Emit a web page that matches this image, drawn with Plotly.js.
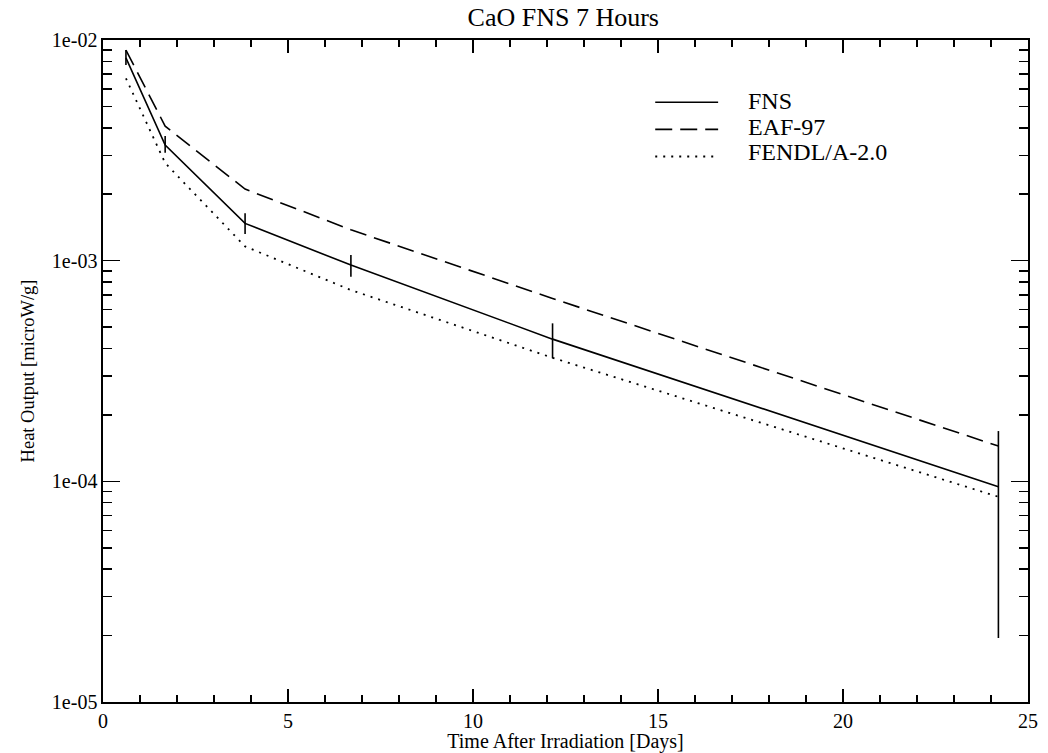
<!DOCTYPE html>
<html>
<head>
<meta charset="utf-8">
<script src="https://cdn.plot.ly/plotly-3.0.1.min.js"></script>
<style>html,body{margin:0;padding:0;background:#fff;}#chart{width:1048px;height:753px;}</style>
</head>
<body>
<div id="chart"></div>
<script>
// Time points (days)
const timeDays = [0.62, 1.68, 3.84, 6.70, 12.15, 24.2];
// FNS measurement and its uncertainty (upper / lower bounds)
const fnsValues = [8.3e-3, 3.34e-3, 1.475e-3, 9.55e-4, 4.41e-4, 9.46e-5];
const fnsUpper  = [9.0e-3, 3.67e-3, 1.64e-3, 1.06e-3, 5.20e-4, 1.69e-4];
const fnsLower  = [7.7e-3, 3.08e-3, 1.32e-3, 8.45e-4, 3.61e-4, 1.95e-5];
// Calculations
const eafValues   = [9.0e-3, 4.07e-3, 2.11e-3, 1.38e-3, 6.74e-4, 1.445e-4];
const fendlValues = [6.7e-3, 2.77e-3, 1.16e-3, 7.36e-4, 3.63e-4, 8.51e-5];
// Series names
const seriesNames = ['FNS', 'EAF-97', 'FENDL/A-2.0'];
// Axis ticks
const yTickVals = [1e-5, 1e-4, 1e-3, 1e-2];
const yTickText = ['1e-05', '1e-04', '1e-03', '1e-02'];
const xTickVals = [0, 5, 10, 15, 20, 25];

const errPlus  = fnsValues.map((v, i) => fnsUpper[i] - v);
const errMinus = fnsValues.map((v, i) => v - fnsLower[i]);

const FONT = 'Liberation Serif, Times New Roman, serif';
const lineStyles = [
  {color: '#000', width: 1.6},
  {color: '#000', width: 1.6, dash: '17px,8px'},
  {color: '#000', width: 1.8, dash: '2px,6px'}
];

const traces = [
  {
    x: timeDays, y: fnsValues, name: seriesNames[0], type: 'scatter', mode: 'lines',
    line: lineStyles[0],
    error_y: {type: 'data', symmetric: false, array: errPlus, arrayminus: errMinus,
              color: '#000', thickness: 1.6, width: 0}
  },
  {x: timeDays, y: eafValues, name: seriesNames[1], type: 'scatter', mode: 'lines', line: lineStyles[1]},
  {x: timeDays, y: fendlValues, name: seriesNames[2], type: 'scatter', mode: 'lines', line: lineStyles[2]}
];

// Legend drawn in paper coordinates (sample line + label per series)
const legX0 = 0.597, legX1 = 0.665, legTextX = 0.695;
const legLineY = [0.906, 0.865, 0.824];
const legTextY = [0.908, 0.869, 0.831];
const shapes = seriesNames.map((n, i) => ({
  type: 'line', xref: 'paper', yref: 'paper', x0: legX0, x1: legX1, y0: legLineY[i], y1: legLineY[i],
  line: lineStyles[i]
}));
const annotations = seriesNames.map((n, i) => ({
  text: n, xref: 'paper', yref: 'paper', x: legTextX, y: legTextY[i], xanchor: 'left', yanchor: 'middle',
  showarrow: false, font: {family: FONT, size: 24, color: '#000'}
}));

const layout = {
  width: 1048, height: 753,
  margin: {l: 103, r: 20, t: 40, b: 51, pad: 0},
  paper_bgcolor: '#fff', plot_bgcolor: '#fff',
  font: {family: FONT, color: '#000', size: 20},
  title: {text: 'CaO FNS 7 Hours', font: {family: FONT, size: 26, color: '#000'},
          x: 0.5375, xanchor: 'center', y: 0.977, yanchor: 'middle'},
  showlegend: false,
  shapes: shapes,
  annotations: annotations,
  xaxis: {
    range: [0, 25], tickmode: 'array', tickvals: xTickVals,
    ticks: 'inside', ticklen: 13, tickwidth: 1.5, tickcolor: '#000',
    showline: true, linecolor: '#000', linewidth: 1.6, mirror: 'ticks',
    showgrid: false, zeroline: false,
    minor: {dtick: 1, ticks: 'inside', ticklen: 7, tickwidth: 1.5, tickcolor: '#000', showgrid: false},
    tickfont: {family: FONT, size: 20, color: '#000'},
    title: {text: 'Time After Irradiation [Days]', font: {family: FONT, size: 20, color: '#000'}, standoff: 1}
  },
  yaxis: {
    type: 'log', range: [-5, -2], tickmode: 'array', tickvals: yTickVals, ticktext: yTickText,
    ticks: 'inside', ticklen: 17, tickwidth: 1.5, tickcolor: '#000',
    showline: true, linecolor: '#000', linewidth: 1.6, mirror: 'ticks',
    showgrid: false, zeroline: false,
    minor: {dtick: 'D1', ticks: 'inside', ticklen: 9, tickwidth: 1.5, tickcolor: '#000', showgrid: false},
    tickfont: {family: FONT, size: 20, color: '#000'},
    title: {text: 'Heat Output [microW/g]', font: {family: FONT, size: 18.5, color: '#000'}, standoff: 12}
  }
};

Plotly.newPlot('chart', traces, layout, {displayModeBar: false, staticPlot: true});
</script>
</body>
</html>
